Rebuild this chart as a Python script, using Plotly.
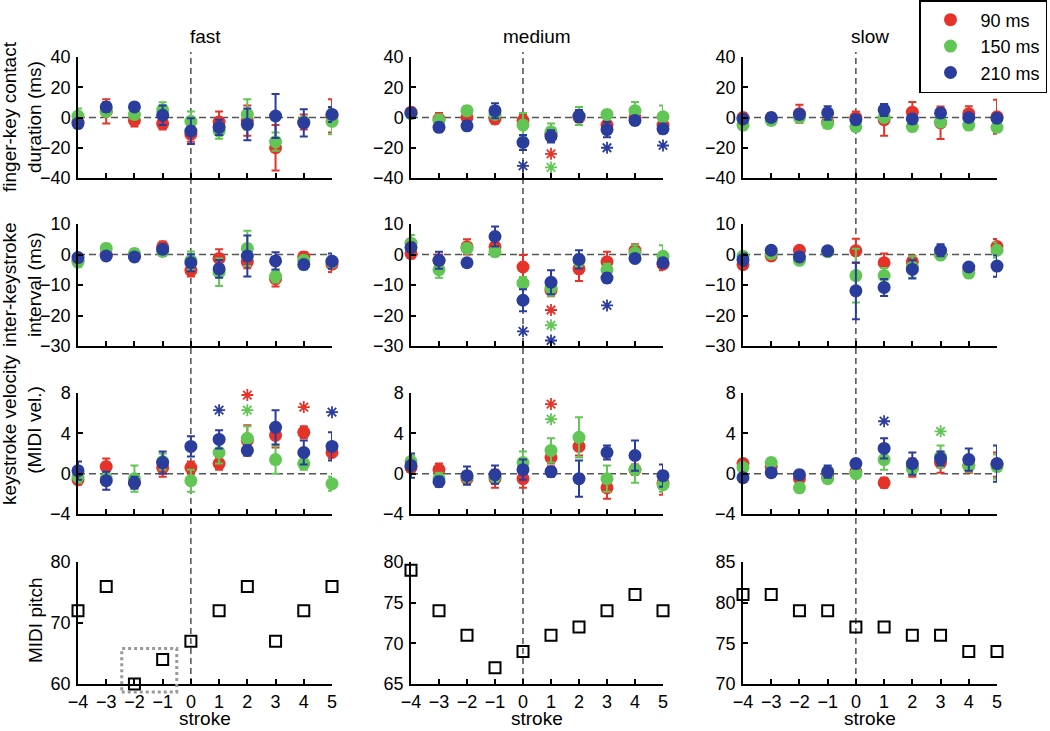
import plotly.graph_objects as go
from plotly.subplots import make_subplots

# ---- data -------------------------------------------------------------
strokes = [-4, -3, -2, -1, 0, 1, 2, 3, 4, 5]
tempos = ["fast", "medium", "slow"]
delays = ["90 ms", "150 ms", "210 ms"]
colors = ["#e6332a", "#62c655", "#2a3c9c"]

# finger-key contact duration (ms): [90, 150, 210] means and error bars
dur_fast = [[-3, 4, -2, -4, -11, -3, -2, -20, -3, 1],
            [1, 4, 2, 5, -2.5, -9, 2, -16, -3, -2.5],
            [-4, 7, 7, 1.5, -9, -6.5, -4.5, 1, -3.5, 2]]
dur_fast_err = [[3, 8, 4, 4, 5, 7, 10, 15, 5, 11],
                [5, 3, 3, 5, 6.5, 5, 10, 6, 3, 8.5],
                [3, 3, 2, 6.5, 8.5, 5, 10.5, 14.5, 9, 5]]
dur_medium = [[3.5, -1, 0, -1, -2, -11, 0, -5, 0, -5],
              [2.5, -2, 4.5, 2, -5, -9.5, 1, 2, 4.5, 0.5],
              [3, -6.5, -5.5, 4.5, -16.5, -12.5, 1, -8, -2, -7.5]]
dur_medium_err = [[3, 4, 3, 3, 4, 4, 3, 4, 3, 4],
                  [3, 4, 3, 3, 8, 5.5, 6, 3, 5.7, 7.5],
                  [3, 3, 3, 5, 5, 4, 4, 5, 3, 3]]
dur_slow = [[0, -1, 2.5, -3, 0, -1.5, 3.5, -3.5, 2.5, 0.5],
            [-5, -2, 0, -4, -6, 0, -6, -3, -5, -6.5],
            [-1, 0, 2, 3, -1.5, 5, -1, 3, 0, -0.5]]
dur_slow_err = [[3, 4, 6, 4, 4, 10.5, 6.7, 10.7, 5, 11.3],
                [3, 3, 3, 3, 3, 3, 3, 3, 3, 3],
                [2, 2, 3, 4.5, 3, 4, 3, 3, 2, 3]]

# inter-keystroke interval (ms)
iki_fast = [[-2, 0, -0.5, 2.5, -5.2, -1.3, -2.5, -8, -0.8, -3.2],
            [-2.5, 2, 0.3, 1, -2, -5.8, 2, -7.2, -1.9, -2.5],
            [-1, -0.5, -0.8, 1.7, -2.7, -4.7, -0.5, -2.1, -3.3, -2.2]]
iki_fast_err = [[1.5, 1.5, 1, 1.8, 2, 3, 2, 2.5, 1.5, 2.5],
                [1.5, 1.5, 1.5, 1.5, 3, 4.5, 5.8, 2, 1.5, 2],
                [1, 1, 1, 1.5, 2.8, 2.9, 6.7, 2.8, 1, 2.5]]
iki_medium = [[0.3, -2, 2.5, 2.5, -4.1, -11.7, -4.7, -2.4, 1.4, -3.2],
              [3.7, -5, 2, 0.9, -9.4, -11, -2, -5, 0.5, -0.6],
              [2.3, -1.9, -2.7, 5.9, -15, -9.1, -1.6, -7.7, -1.3, -2.7]]
iki_medium_err = [[1.5, 2, 2.5, 2.5, 3.9, 2, 4, 3.3, 2, 2],
                  [2.7, 2.6, 1.5, 1.5, 2, 2.5, 2, 2, 2.5, 3.6],
                  [1.5, 2.8, 1, 3.3, 3.6, 3.9, 3, 1.5, 1, 1.5]]
iki_slow = [[-3.3, -0.5, 1.4, 1, 1.2, -2.7, -2.4, 0, -5, 2.6],
            [-0.6, 0.3, -1.9, 0.9, -6.9, -6.9, -4.1, -0.2, -6.1, 1.4],
            [-1.7, 1.4, -0.8, 1.2, -11.9, -10.8, -4.9, 1.4, -4.1, -3.8]]
iki_slow_err = [[1, 1, 1, 1, 4, 3, 2, 1, 1, 2.5],
                [1, 1, 1, 1, 8.8, 2.5, 3.5, 1, 1, 2.5],
                [2, 1, 1, 1, 9.3, 2.8, 3, 2, 1, 3.5]]

# keystroke velocity (MIDI vel.)
vel_fast = [[-0.6, 0.7, -0.9, 0.6, 0.6, 1.0, 3.3, 3.8, 4.1, 2.1],
            [-0.3, -0.5, -0.5, 1.2, -0.7, 2.1, 3.5, 1.4, 1.0, -1.0],
            [0.3, -0.7, -0.9, 1.1, 2.7, 3.4, 2.3, 4.6, 2.1, 2.7]]
vel_fast_err = [[0.5, 0.8, 0.5, 0.9, 0.6, 0.6, 1.5, 1.2, 0.6, 0.6],
                [0.6, 0.6, 1.3, 0.8, 1.1, 1.1, 1.2, 1.4, 0.6, 0.7],
                [0.9, 0.9, 0.6, 1.1, 1.0, 0.9, 0.5, 1.7, 1.2, 1.4]]
vel_medium = [[0.6, 0.4, -0.5, -0.5, -0.5, 1.6, 2.7, -1.4, 0.4, -0.9],
              [1.2, -0.5, -0.3, -0.3, 1.1, 2.3, 3.6, -0.5, 0.4, -1.1],
              [0.8, -0.8, -0.2, -0.1, 0.4, 0.2, -0.5, 2.1, 1.8, -0.2]]
vel_medium_err = [[0.6, 0.6, 0.5, 0.9, 0.9, 0.6, 0.9, 1.1, 0.5, 1.2],
                  [0.6, 0.6, 0.5, 0.5, 1.1, 1.2, 2.0, 1.3, 1.3, 0.7],
                  [1.2, 0.5, 0.9, 0.9, 1.0, 0.5, 1.8, 0.7, 1.5, 1.1]]
vel_slow = [[1.0, 0.7, -0.5, -0.3, 0.2, -0.9, 0.6, 1.1, 0.8, 0.9],
            [0.6, 1.1, -1.4, -0.5, 0.0, 1.4, 0.5, 1.7, 0.8, 0.7],
            [-0.4, 0.1, -0.1, 0.2, 1.0, 2.5, 1.0, 1.5, 1.4, 1.0]]
vel_slow_err = [[0.4, 0.4, 0.4, 0.4, 0.4, 0.5, 0.9, 1.0, 0.7, 1.2],
                [0.4, 0.4, 0.4, 0.4, 0.4, 1.0, 0.6, 1.1, 0.6, 1.2],
                [0.4, 0.4, 0.4, 0.6, 0.4, 1.0, 1.1, 0.7, 1.1, 1.8]]

# MIDI pitch of each stroke
pitch_fast = [72, 76, 60, 64, 67, 72, 76, 67, 72, 76]
pitch_medium = [79, 74, 71, 67, 69, 71, 72, 74, 76, 74]
pitch_slow = [81, 81, 79, 79, 77, 77, 76, 76, 74, 74]

# significance stars: (delay index, stroke, y)
stars_dur_medium = [(0, 1, -24), (1, 1, -33), (2, 0, -32), (2, 1, -43),
                    (2, 3, -20), (2, 5, -18.5)]
stars_iki_medium = [(0, 1, -18.2), (1, 1, -23.2), (2, 0, -25.2), (2, 1, -28.2),
                    (2, 3, -16.7)]
stars_vel_fast = [(0, 2, 7.8), (0, 3, 9.6), (0, 4, 6.6), (1, 2, 6.3),
                  (2, 1, 6.3), (2, 3, 8.1), (2, 5, 6.1)]
stars_vel_medium = [(0, 1, 6.9), (1, 1, 5.4), (1, 2, 8.1)]
stars_vel_slow = [(2, 1, 5.2), (1, 3, 4.2)]

row_titles = ["finger-key contact<br>duration (ms)", "inter-keystroke<br>interval (ms)",
              "keystroke velocity<br>(MIDI vel.)", "MIDI pitch"]

panels = [
    [(dur_fast, dur_fast_err, []), (dur_medium, dur_medium_err, stars_dur_medium),
     (dur_slow, dur_slow_err, [])],
    [(iki_fast, iki_fast_err, []), (iki_medium, iki_medium_err, stars_iki_medium),
     (iki_slow, iki_slow_err, [])],
    [(vel_fast, vel_fast_err, stars_vel_fast), (vel_medium, vel_medium_err, stars_vel_medium),
     (vel_slow, vel_slow_err, stars_vel_slow)],
]
pitches = [pitch_fast, pitch_medium, pitch_slow]

y_ranges = [[-40, 40], [-30, 10], [-4, 8]]
y_ticks = [[-40, -20, 0, 20, 40], [-30, -20, -10, 0, 10], [-4, 0, 4, 8]]
pitch_ranges = [[60, 80], [65, 80], [70, 85]]
pitch_ticks = [[60, 70, 80], [65, 70, 75, 80], [70, 75, 80, 85]]

# ---- layout geometry (pixels) ----------------------------------------
W, H = 1050, 731
FONT = "Liberation Sans, Arial, Helvetica, sans-serif"
col_px = [(78, 332), (411, 663), (743, 997)]
row_px = [(57, 178), (224, 346), (393, 514), (562, 684)]


def px_x(v):
    return v / W


def px_y(v):
    return 1 - v / H


fig = make_subplots(rows=4, cols=3)

for r in range(3):
    for c in range(3):
        means, errs, stars = panels[r][c]
        for k in range(3):
            fig.add_trace(go.Scatter(
                x=strokes, y=means[k], mode="markers", showlegend=False,
                marker=dict(size=13, color=colors[k]),
                error_y=dict(type="data", array=errs[k], color=colors[k],
                             thickness=2, width=4),
                cliponaxis=False, hoverinfo="skip",
            ), row=r + 1, col=c + 1)
        for k in range(3):
            pts = [s for s in stars if s[0] == k]
            if not pts:
                continue
            fig.add_trace(go.Scatter(
                x=[p[1] for p in pts], y=[p[2] for p in pts], mode="markers",
                showlegend=False, cliponaxis=False, hoverinfo="skip",
                marker=dict(symbol="asterisk-open", size=10, color=colors[k],
                            line=dict(color=colors[k], width=1.8)),
            ), row=r + 1, col=c + 1)

for c in range(3):
    fig.add_trace(go.Scatter(
        x=strokes, y=pitches[c], mode="markers", showlegend=False,
        marker=dict(symbol="square-open", size=11, color="black",
                    line=dict(color="black", width=2)),
        cliponaxis=False, hoverinfo="skip",
    ), row=4, col=c + 1)

for k in range(3):
    fig.add_trace(go.Scatter(
        x=[None], y=[None], mode="markers", name=delays[k],
        marker=dict(size=13, color=colors[k]),
    ), row=1, col=1)

for r in range(4):
    for c in range(3):
        fig.update_xaxes(
            domain=[px_x(col_px[c][0]), px_x(col_px[c][1])], range=[-4, 5],
            tickvals=strokes, ticks="inside", ticklen=5, tickwidth=1.5,
            tickcolor="black", showline=True, linecolor="black", linewidth=1.5,
            showgrid=False, zeroline=False, showticklabels=(r == 3),
            ticklabelstandoff=1, automargin=False,
            tickfont=dict(size=18, color="black", family=FONT),
            row=r + 1, col=c + 1)
        if r < 3:
            yr, yt = y_ranges[r], y_ticks[r]
        else:
            yr, yt = pitch_ranges[c], pitch_ticks[c]
        fig.update_yaxes(
            domain=[px_y(row_px[r][1]), px_y(row_px[r][0])], range=yr,
            tickvals=yt, ticks="inside", ticklen=5, tickwidth=1.5,
            tickcolor="black", showline=True, linecolor="black", linewidth=1.5,
            showgrid=False, zeroline=False, ticklabelstandoff=2, automargin=False,
            tickfont=dict(size=18, color="black", family=FONT),
            row=r + 1, col=c + 1)

shapes = []
for r in range(3):
    for c in range(3):
        n = r * 3 + c + 1
        shapes.append(dict(type="line", xref=f"x{n}", yref=f"y{n}", x0=-4, x1=5,
                           y0=0, y1=0, layer="below",
                           line=dict(color="#555555", width=1.5, dash="7px,4px")))
for c in range(3):
    shapes.append(dict(type="line", xref=f"x{c + 1}", yref="paper", x0=0, x1=0,
                       y0=px_y(684), y1=px_y(52), layer="below",
                       line=dict(color="#222222", width=1.2, dash="6px,4px")))
# dotted box around strokes -2 and -1 (fast pitch panel)
shapes.append(dict(type="rect", xref="x10", yref="y10 domain", x0=-2.45, x1=-0.5,
                   y0=-0.065, y1=0.29, line=dict(color="#999999", width=3, dash="dot")))

annotations = []
for c in range(3):
    cx = px_x(sum(col_px[c]) / 2)
    annotations.append(dict(text=tempos[c], x=cx, y=px_y(37), xanchor="center",
                            yanchor="middle", xref="paper", yref="paper",
                            showarrow=False,
                            font=dict(size=19, color="black", family=FONT)))
    annotations.append(dict(text="stroke", x=cx, y=0, xanchor="center",
                            yanchor="bottom", xref="paper", yref="paper",
                            showarrow=False,
                            font=dict(size=19, color="black", family=FONT)))
title_x = [22, 22, 22, 35]
title_y = [117, 285, 430, 620]
for r in range(4):
    annotations.append(dict(text=row_titles[r], x=px_x(title_x[r]), y=px_y(title_y[r]),
                            xanchor="center", yanchor="middle",
                            xref="paper", yref="paper", showarrow=False, textangle=-90,
                            font=dict(size=19, color="black", family=FONT)))

fig.update_layout(
    width=W, height=H, margin=dict(l=0, r=0, t=0, b=0),
    paper_bgcolor="white", plot_bgcolor="rgba(0,0,0,0)",
    font=dict(family=FONT, size=18, color="black"),
    shapes=shapes, annotations=annotations,
    legend=dict(x=px_x(1047), xanchor="right", y=1, yanchor="top",
                itemwidth=50, bordercolor="black", borderwidth=1.5, bgcolor="white",
                font=dict(size=18, color="black", family=FONT)),
)

# drop the default 8px page margin so the figure fills the window exactly
fig.write_html("out.html", config={"displayModeBar": False},
               post_script="document.body.style.margin = '0';")
